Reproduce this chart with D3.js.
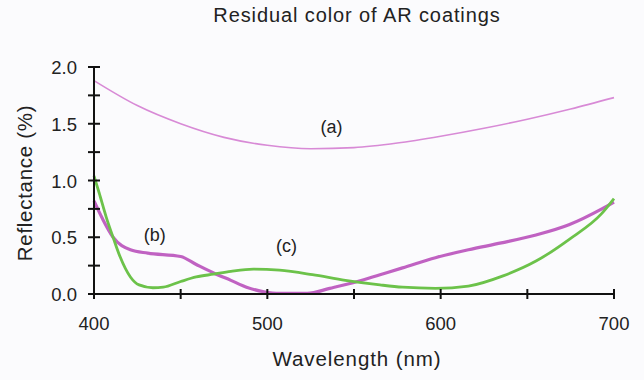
<!DOCTYPE html>
<html>
<head>
<meta charset="utf-8">
<script src="https://cdn.jsdelivr.net/npm/d3@7"></script>
<style>
  body { margin: 0; background: #fbfbfd; }
  svg { display: block; font-family: "Liberation Sans", Arial, sans-serif; }
  text { fill: #222; }
</style>
</head>
<body>
<svg width="644" height="380"></svg>
<script>
// curve (a)
var wlA = [400, 425, 450, 475, 500, 525, 550, 575, 600, 625, 650, 675, 700];
var refA = [1.88, 1.66, 1.50, 1.38, 1.31, 1.28, 1.29, 1.33, 1.39, 1.46, 1.54, 1.63, 1.73];

// curve (b)
var wlB = [400, 405, 411, 421, 431, 450, 459, 469, 479, 488, 498, 507, 523, 536, 552, 565, 578, 597, 616, 635, 655, 674, 693, 700];
var refB = [0.82, 0.66, 0.50, 0.39, 0.36, 0.33, 0.26, 0.185, 0.12, 0.06, 0.02, 0.005, 0.005, 0.05, 0.11, 0.17, 0.23, 0.32, 0.39, 0.45, 0.52, 0.61, 0.75, 0.81];

// curve (c)
var wlC = [400, 403, 407, 411, 415, 421, 426, 434, 440, 450, 459, 469, 479, 492, 507, 526, 545, 565, 578, 597, 616, 636, 655, 674, 693, 700];
var refC = [1.04, 0.89, 0.68, 0.50, 0.33, 0.15, 0.08, 0.055, 0.06, 0.11, 0.15, 0.175, 0.20, 0.22, 0.21, 0.17, 0.12, 0.08, 0.06, 0.05, 0.07, 0.16, 0.29, 0.48, 0.71, 0.84];

var xTicks = [400, 450, 500, 550, 600, 650, 700];
var xLabels = [400, 500, 600, 700];
var yTicks = [0, 0.25, 0.5, 0.75, 1, 1.25, 1.5, 1.75, 2];
var yLabels = [0, 0.5, 1, 1.5, 2];

var svg = d3.select("svg");

var x = d3.scaleLinear().domain([400, 700]).range([94, 614]);
var y = d3.scaleLinear().domain([0, 2]).range([294, 67]);

var line = d3.line()
    .x(function(d) { return x(d[0]); })
    .y(function(d) { return y(d[1]); })
    .curve(d3.curveMonotoneX);

function pairs(w, r) { return w.map(function(v, i) { return [v, r[i]]; }); }

var series = [
  {data: pairs(wlA, refA), color: "#d88ad6", width: 1.6},
  {data: pairs(wlB, refB), color: "#c062c2", width: 3.2},
  {data: pairs(wlC, refC), color: "#6cc24a", width: 2.8}
];

svg.selectAll("path.curve")
    .data(series)
  .enter().append("path")
    .attr("class", "curve")
    .attr("fill", "none")
    .attr("stroke", function(d) { return d.color; })
    .attr("stroke-width", function(d) { return d.width; })
    .attr("stroke-linejoin", "round")
    .attr("d", function(d) { return line(d.data); });

// axes
var ax = svg.append("g").attr("stroke", "#111").attr("stroke-width", 2);
ax.append("line").attr("x1", x(400)).attr("x2", x(700)).attr("y1", y(0)).attr("y2", y(0));
ax.append("line").attr("x1", x(400)).attr("x2", x(400)).attr("y1", y(0)).attr("y2", y(2));

ax.selectAll("line.xt").data(xTicks).enter().append("line")
    .attr("class", "xt")
    .attr("x1", function(d) { return x(d); }).attr("x2", function(d) { return x(d); })
    .attr("y1", y(0) - 5).attr("y2", y(0) + 5);

ax.selectAll("line.yt").data(yTicks).enter().append("line")
    .attr("class", "yt")
    .attr("y1", function(d) { return y(d); }).attr("y2", function(d) { return y(d); })
    .attr("x1", x(400) - 6).attr("x2", x(400) + 6);

svg.selectAll("text.xl").data(xLabels).enter().append("text")
    .attr("class", "xl")
    .attr("x", function(d) { return x(d); })
    .attr("y", y(0) + 36)
    .attr("text-anchor", "middle")
    .attr("font-size", 18.5)
    .text(function(d) { return d; });

svg.selectAll("text.yl").data(yLabels).enter().append("text")
    .attr("class", "yl")
    .attr("x", 77)
    .attr("y", function(d) { return y(d) + 7; })
    .attr("text-anchor", "end")
    .attr("font-size", 18.5)
    .text(function(d) { return d.toFixed(1); });

svg.append("text")
    .attr("x", 357).attr("y", 22)
    .attr("text-anchor", "middle")
    .attr("font-size", 20)
    .attr("letter-spacing", 0.9)
    .text("Residual color of AR coatings");

svg.append("text")
    .attr("x", 357).attr("y", 366)
    .attr("text-anchor", "middle")
    .attr("font-size", 20.5)
    .attr("letter-spacing", 0.9)
    .text("Wavelength (nm)");

svg.append("text")
    .attr("transform", "translate(32,183) rotate(-90)")
    .attr("text-anchor", "middle")
    .attr("font-size", 20.5)
    .attr("letter-spacing", 0.7)
    .text("Reflectance (%)");

// curve labels
var notes = [["(a)", 537, 1.42], ["(b)", 435, 0.47], ["(c)", 511, 0.37]];
svg.selectAll("text.note").data(notes).enter().append("text")
    .attr("class", "note")
    .attr("x", function(d) { return x(d[1]); })
    .attr("y", function(d) { return y(d[2]); })
    .attr("text-anchor", "middle")
    .attr("font-size", 18)
    .text(function(d) { return d[0]; });
</script>
</body>
</html>
